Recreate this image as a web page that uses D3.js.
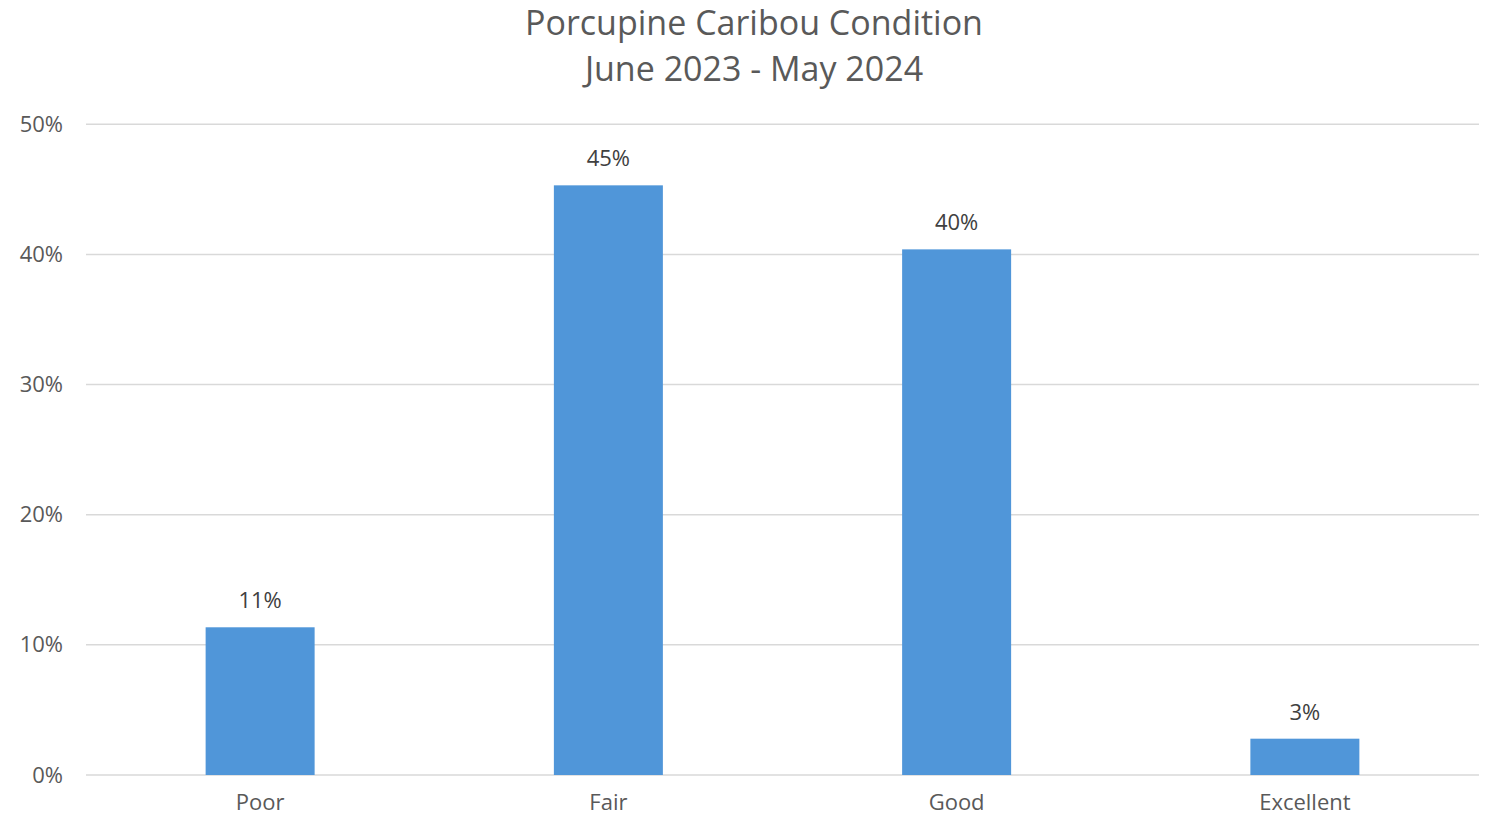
<!DOCTYPE html>
<html>
<head>
<meta charset="utf-8">
<script src="https://cdn.jsdelivr.net/npm/d3@7"></script>
<style>
  body { margin: 0; background: #fff; }
  text { font-family: "Open Sans", sans-serif; }
</style>
</head>
<body>
<div class="chart"></div>
<script>
var categories = ['Poor', 'Fair', 'Good', 'Excellent'];
var values = [11.35, 45.31, 40.39, 2.79];
var labels = ['11%', '45%', '40%', '3%'];
var yTicks = [0, 10, 20, 30, 40, 50];
var titleLines = ['Porcupine Caribou Condition', 'June 2023 - May 2024'];

var svgWidth = 1486;
var svgHeight = 817;
const margin = { top: 124.3, bottom: 42, left: 86, right: 7 };
var width = svgWidth - margin.left - margin.right;
var height = svgHeight - margin.top - margin.bottom;

var svg = d3.select('div.chart')
    .append('svg')
    .attr('width', svgWidth)
    .attr('height', svgHeight);

var chart = svg.append('g')
    .attr('transform', 'translate(' + margin.left + ',' + margin.top + ')');

var x = d3.scaleBand()
    .domain(categories)
    .range([0, width])
    .paddingInner(0.687)
    .paddingOuter(0.3435);

var y = d3.scaleLinear()
    .domain([0, 50])
    .range([height, 0]);

// gridlines
chart.append('g')
    .selectAll('line')
    .data(yTicks)
    .enter()
    .append('line')
    .attr('x1', 0)
    .attr('x2', width)
    .attr('y1', function (d) { return y(d); })
    .attr('y2', function (d) { return y(d); })
    .style('stroke', '#d9d9d9')
    .style('stroke-width', 1.5);

// y axis labels
var y_axis = d3.axisLeft(y)
    .tickValues(yTicks)
    .tickFormat(function (d) { return d + '%'; })
    .tickSize(0)
    .tickPadding(23);

chart.append('g')
    .call(y_axis)
    .call(function (g) { g.select('.domain').remove(); })
    .selectAll('text')
    .style('font-size', '22px')
    .style('fill', '#595959')
    .style('font-family', '"Open Sans", sans-serif');

// bars
chart.append('g')
    .selectAll('rect')
    .data(values)
    .enter()
    .append('rect')
    .attr('x', function (d, i) { return x(categories[i]); })
    .attr('y', function (d) { return y(d); })
    .attr('width', x.bandwidth())
    .attr('height', function (d) { return height - y(d); })
    .style('fill', '#5096d9');

// data labels
chart.append('g')
    .selectAll('text')
    .data(values)
    .enter()
    .append('text')
    .attr('x', function (d, i) { return x(categories[i]) + x.bandwidth() / 2; })
    .attr('y', function (d) { return y(d) - 19; })
    .attr('text-anchor', 'middle')
    .style('font-size', '22px')
    .style('fill', '#404040')
    .text(function (d, i) { return labels[i]; });

// x axis
var x_axis = d3.axisBottom(x).tickSize(0).tickPadding(19);
chart.append('g')
    .attr('transform', 'translate(0,' + height + ')')
    .call(x_axis)
    .call(function (g) { g.select('.domain').remove(); })
    .selectAll('text')
    .style('font-size', '22px')
    .style('fill', '#595959')
    .style('font-family', '"Open Sans", sans-serif');

// title
svg.append('g')
    .selectAll('text')
    .data(titleLines)
    .enter()
    .append('text')
    .attr('x', 754)
    .attr('y', function (d, i) { return 35 + i * 46; })
    .attr('text-anchor', 'middle')
    .style('font-size', '34px')
    .style('fill', '#595959')
    .text(function (d) { return d; });
</script>
</body>
</html>
